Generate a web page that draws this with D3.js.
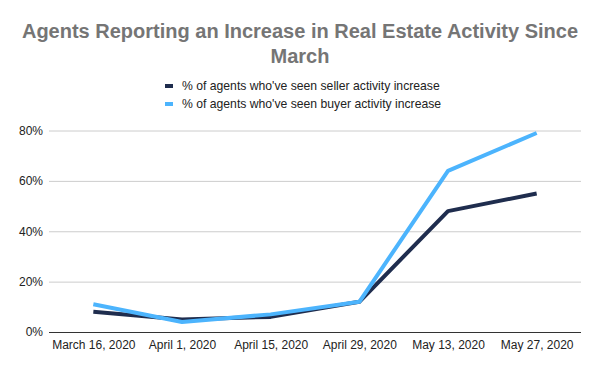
<!DOCTYPE html>
<html><head><meta charset="utf-8">
<script src="https://cdn.jsdelivr.net/npm/d3@7"></script>
<style>body{margin:0;background:#fff;} svg{display:block;font-family:"Liberation Sans",Arial,sans-serif;}</style>
</head><body><div id="chart"></div>
<script>
const categories = ["March 16, 2020","April 1, 2020","April 15, 2020","April 29, 2020","May 13, 2020","May 27, 2020"];
const sellerValues = [8, 5, 6, 12, 48, 55];
const buyerValues = [11, 4, 7, 12, 64, 79];
const yTicks = [0, 20, 40, 60, 80];
const seriesNames = ["% of agents who've seen seller activity increase","% of agents who've seen buyer activity increase"];
const colors = ["#1f2d4e","#4cb4fd"];

const W = 600, H = 371;
const m = {left: 49, right: 19, top: 130, bottom: 39};
const svg = d3.select("#chart").append("svg").attr("width", W).attr("height", H);

const x = d3.scalePoint().domain(categories).range([m.left, W - m.right]).padding(0.5);
const y = d3.scaleLinear().domain([0, 80]).range([H - m.bottom, 130.5]);

svg.append("text").attr("x", 300).attr("y", 38).attr("text-anchor","middle")
  .attr("font-size", 20).attr("font-weight","bold").attr("fill","#757575")
  .text("Agents Reporting an Increase in Real Estate Activity Since");
svg.append("text").attr("x", 300).attr("y", 63).attr("text-anchor","middle")
  .attr("font-size", 20).attr("font-weight","bold").attr("fill","#757575")
  .text("March");

// legend
const lg = svg.append("g");
seriesNames.forEach((n,i)=>{
  const yy = 86 + i*18;
  lg.append("rect").attr("x",165).attr("y",yy-2).attr("width",8).attr("height",4).attr("fill",colors[i]);
  lg.append("text").attr("x",182).attr("y",yy+4).attr("font-size",12.2).attr("fill","#222").text(n);
});

// grid
const yAxis = d3.axisLeft(y).tickValues(yTicks).tickFormat(d=>d+"%").tickSize(-(W-m.left-m.right)).tickPadding(6);
const ga = svg.append("g").attr("transform",`translate(${m.left},0)`).call(yAxis);
ga.select(".domain").remove();
ga.selectAll(".tick line").attr("stroke","#cccccc");
ga.selectAll(".tick text").attr("font-size",12).attr("fill","#222").attr("font-family","Liberation Sans, Arial, sans-serif");
ga.selectAll(".tick").filter(d=>d===0).select("line").attr("stroke","#333");

const xAxis = d3.axisBottom(x).tickSize(0).tickPadding(8);
const gx = svg.append("g").attr("transform",`translate(0,${H-m.bottom})`).call(xAxis);
gx.select(".domain").remove();
gx.selectAll(".tick text").attr("font-size",12).attr("fill","#222").attr("font-family","Liberation Sans, Arial, sans-serif");

const line = d3.line().x((d,i)=>x(categories[i])).y(d=>y(d));
[sellerValues, buyerValues].forEach((vals,i)=>{
  svg.append("path").datum(vals).attr("d", line).attr("fill","none")
    .attr("stroke", colors[i]).attr("stroke-width", 4).attr("stroke-linejoin","round");
});
</script></body></html>
